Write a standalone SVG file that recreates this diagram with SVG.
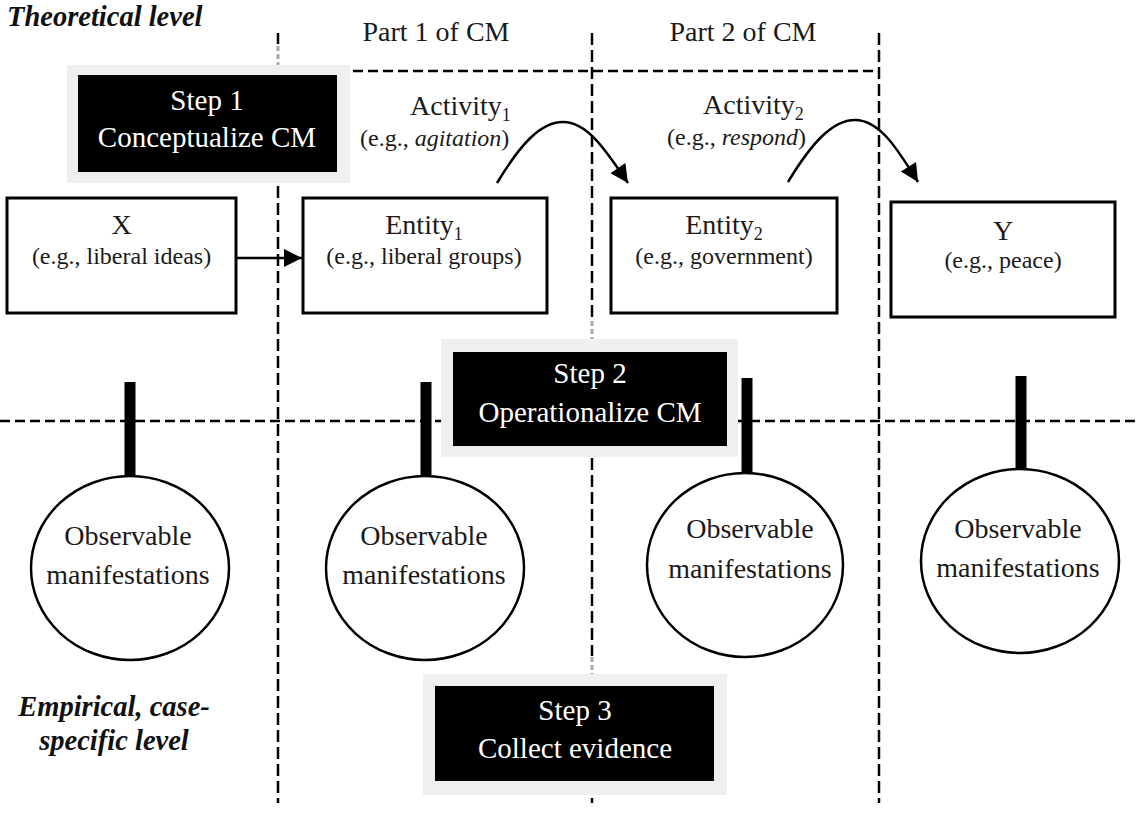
<svg xmlns="http://www.w3.org/2000/svg" width="1139" height="821" viewBox="0 0 1139 821">
<defs>
<style>
text{font-family:"Liberation Serif","Times New Roman",serif;fill:#1a1a1a}
.t{font-size:28px}
.s{font-size:24px}
.sub{font-size:18px}
.w{fill:#fff;font-size:29px}
.bi{font-weight:bold;font-style:italic;font-size:28.5px;fill:#111}
.it{font-style:italic}
.box{fill:#fff;stroke:#000;stroke-width:3}
.frame{fill:#efefef}
.blk{fill:#000}
.circ{fill:#fff;stroke:#000;stroke-width:2.5}
.vd{stroke:#000;stroke-width:2.5;stroke-dasharray:12 5;fill:none}
.gd{stroke:#aaa;stroke-width:3;stroke-dasharray:5 3;fill:none}
.hd{stroke:#000;stroke-width:2.5;stroke-dasharray:10 5;fill:none}
.stem{stroke:#000;stroke-width:11}
.arr{stroke:#000;stroke-width:2.5;fill:none}
</style>
<marker id="ah" viewBox="0 0 10 10" refX="10" refY="5" markerUnits="userSpaceOnUse" markerWidth="21" markerHeight="18" orient="auto">
<path d="M0,0 L10,5 L0,10 z" fill="#000"/>
</marker>
</defs>
<rect width="1139" height="821" fill="#fff"/>

<g id="grid">
<line class="vd" x1="278" y1="33" x2="278" y2="803"/>
<line class="vd" x1="592" y1="33" x2="592" y2="803"/>
<line class="vd" x1="879" y1="33" x2="879" y2="803"/>
<line class="hd" x1="278" y1="71" x2="879" y2="71"/>
<line class="hd" x1="0" y1="421" x2="1139" y2="421"/>
<rect x="275" y="44" width="6" height="21" fill="#fff"/>
<line class="gd" x1="278" y1="46" x2="278" y2="65"/>
<rect x="589" y="320" width="6" height="19" fill="#fff"/>
<line class="gd" x1="592" y1="321" x2="592" y2="339"/>
<rect x="589" y="656" width="6" height="18" fill="#fff"/>
<line class="gd" x1="592" y1="657" x2="592" y2="674"/>
</g>

<g id="labels">
<text class="bi" x="7" y="26">Theoretical level</text>
<text class="t" x="436" y="41" text-anchor="middle">Part 1 of CM</text>
<text class="t" x="743" y="41" text-anchor="middle">Part 2 of CM</text>
<text class="bi" x="114" y="716" text-anchor="middle">Empirical, case-</text>
<text class="bi" x="114" y="750" text-anchor="middle">specific level</text>
</g>

<g id="step1">
<rect class="frame" x="67" y="65" width="283" height="118"/>
<rect class="blk" x="78" y="75" width="259" height="97"/>
<text class="w" x="207" y="110" text-anchor="middle">Step 1</text>
<text class="w" x="207" y="147" text-anchor="middle">Conceptualize CM</text>
</g>

<g id="connectors">
<line class="arr" x1="236" y1="258" x2="302" y2="258" stroke-width="3" marker-end="url(#ah)"/>
<path class="arr" d="M497,183 C520,145 540,122 563,122 C588,122 607,152 628,183" marker-end="url(#ah)"/>
<path class="arr" d="M788,182 C811,144 832,120 855,120 C880,120 898,150 918,182" marker-end="url(#ah)"/>
<line class="stem" x1="130" y1="382" x2="130" y2="477"/>
<line class="stem" x1="426" y1="382" x2="426" y2="477"/>
<line class="stem" x1="747" y1="378" x2="747" y2="474"/>
<line class="stem" x1="1021" y1="376" x2="1021" y2="470"/>
</g>

<g id="activity1">
<text class="t" x="410" y="115">Activity<tspan class="sub" dy="6">1</tspan></text>
<text class="s" x="360" y="146">(e.g., <tspan class="it">agitation</tspan>)</text>
</g>
<g id="activity2">
<text class="t" x="703" y="114">Activity<tspan class="sub" dy="6">2</tspan></text>
<text class="s" x="667" y="145">(e.g., <tspan class="it">respond</tspan>)</text>
</g>

<g id="x">
<rect class="box" x="7" y="198" width="229" height="115"/>
<text class="t" x="121.5" y="234" text-anchor="middle">X</text>
<text class="s" x="121.5" y="264" text-anchor="middle">(e.g., liberal ideas)</text>
</g>
<g id="entity1">
<rect class="box" x="303" y="198" width="244" height="115"/>
<text class="t" x="424" y="234" text-anchor="middle">Entity<tspan class="sub" dy="6">1</tspan></text>
<text class="s" x="424" y="264" text-anchor="middle">(e.g., liberal groups)</text>
</g>
<g id="entity2">
<rect class="box" x="611" y="198" width="226" height="115"/>
<text class="t" x="724" y="234" text-anchor="middle">Entity<tspan class="sub" dy="6">2</tspan></text>
<text class="s" x="724" y="264" text-anchor="middle">(e.g., government)</text>
</g>
<g id="y">
<rect class="box" x="891" y="202" width="224" height="115"/>
<text class="t" x="1003" y="240" text-anchor="middle">Y</text>
<text class="s" x="1003" y="268" text-anchor="middle">(e.g., peace)</text>
</g>

<g id="step2">
<rect class="frame" x="441" y="339" width="297" height="118"/>
<rect class="blk" x="453" y="352" width="274" height="94"/>
<text class="w" x="590" y="383" text-anchor="middle">Step 2</text>
<text class="w" x="590" y="422" text-anchor="middle">Operationalize CM</text>
</g>

<g id="om1">
<ellipse class="circ" cx="130" cy="568" rx="99" ry="92"/>
<text class="t" x="128" y="545" text-anchor="middle">Observable</text>
<text class="t" x="128" y="584" text-anchor="middle">manifestations</text>
</g>
<g id="om2">
<ellipse class="circ" cx="425" cy="568" rx="99" ry="92"/>
<text class="t" x="424" y="545" text-anchor="middle">Observable</text>
<text class="t" x="424" y="584" text-anchor="middle">manifestations</text>
</g>
<g id="om3">
<ellipse class="circ" cx="745" cy="565" rx="98" ry="92"/>
<text class="t" x="750" y="538" text-anchor="middle">Observable</text>
<text class="t" x="750" y="578" text-anchor="middle">manifestations</text>
</g>
<g id="om4">
<ellipse class="circ" cx="1020" cy="561" rx="99" ry="92"/>
<text class="t" x="1018" y="538" text-anchor="middle">Observable</text>
<text class="t" x="1018" y="577" text-anchor="middle">manifestations</text>
</g>

<g id="step3">
<rect class="frame" x="423" y="674" width="304" height="121"/>
<rect class="blk" x="435" y="686" width="279" height="95"/>
<text class="w" x="575" y="720" text-anchor="middle">Step 3</text>
<text class="w" x="575" y="758" text-anchor="middle">Collect evidence</text>
</g>
</svg>
